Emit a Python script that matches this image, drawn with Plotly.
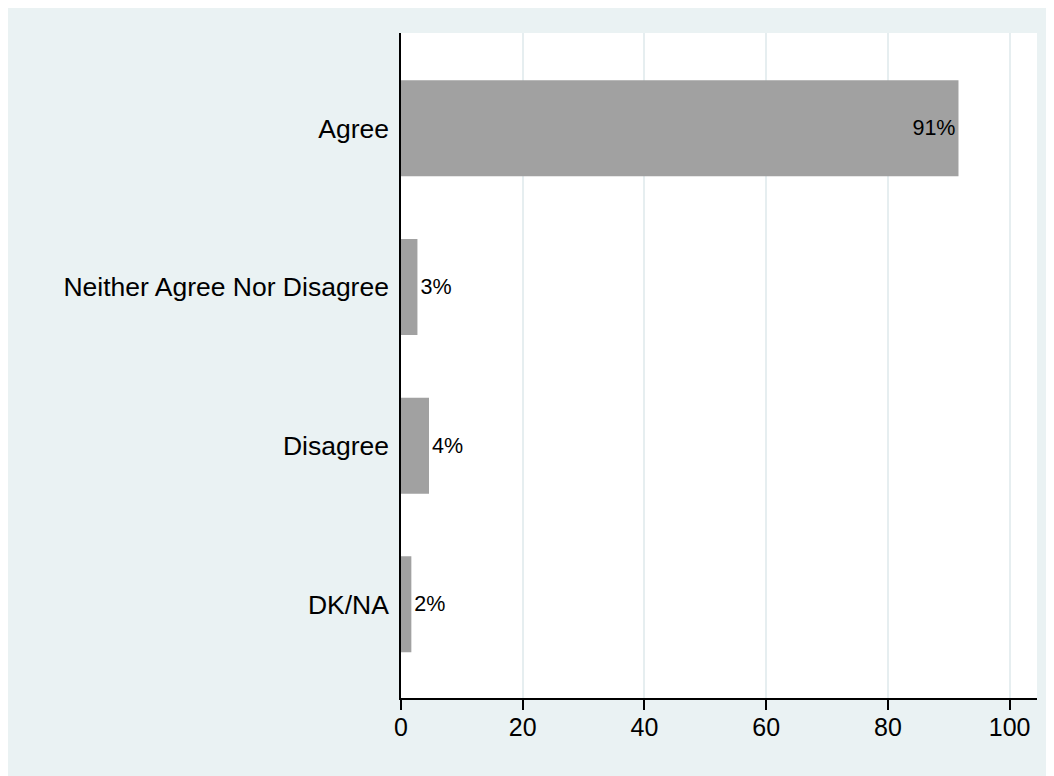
import plotly.graph_objects as go

categories = ["Agree", "Neither Agree Nor Disagree", "Disagree", "DK/NA"]
values = [91.6, 2.7, 4.6, 1.7]
labels = ["91%", "3%", "4%", "2%"]
label_positions = ["inside", "outside", "outside", "outside"]
x_ticks = [0, 20, 40, 60, 80, 100]

FONT = "Liberation Sans, Arial, Helvetica, sans-serif"

fig = go.Figure(
    go.Bar(
        x=values,
        y=categories,
        orientation="h",
        marker=dict(color="#a1a1a1", line=dict(width=0)),
        text=labels,
        textposition=label_positions,
        insidetextanchor="end",
        textfont=dict(family=FONT, size=21.5, color="black"),
        insidetextfont=dict(family=FONT, size=21.5, color="black"),
        outsidetextfont=dict(family=FONT, size=21.5, color="black"),
        cliponaxis=False,
        constraintext="none",
    )
)

fig.update_layout(
    width=1046,
    height=768,
    margin=dict(l=393, r=17, t=25, b=78),
    paper_bgcolor="#eaf2f3",
    plot_bgcolor="white",
    bargap=0.395,
    showlegend=False,
    font=dict(family=FONT, size=25, color="black"),
    xaxis=dict(
        range=[0, 104.5],
        tickvals=x_ticks,
        ticktext=[str(t) for t in x_ticks],
        showgrid=True,
        gridcolor="#e6eef0",
        gridwidth=1.5,
        zeroline=False,
        showline=True,
        linecolor="black",
        linewidth=1.5,
        ticks="outside",
        ticklen=10,
        tickwidth=1.5,
        tickcolor="black",
        ticklabelstandoff=-4,
        tickfont=dict(family=FONT, size=25, color="black"),
    ),
    yaxis=dict(
        type="category",
        categoryorder="array",
        categoryarray=categories,
        range=[3.59, -0.60],
        showgrid=False,
        zeroline=False,
        showline=True,
        linecolor="black",
        linewidth=1.5,
        ticks="",
        ticklabelstandoff=5,
        tickfont=dict(family=FONT, size=26.5, color="black"),
    ),
)

fig.write_html(
    "out.html",
    post_script="document.documentElement.style.overflow='hidden';document.body.style.overflow='hidden';",
)
